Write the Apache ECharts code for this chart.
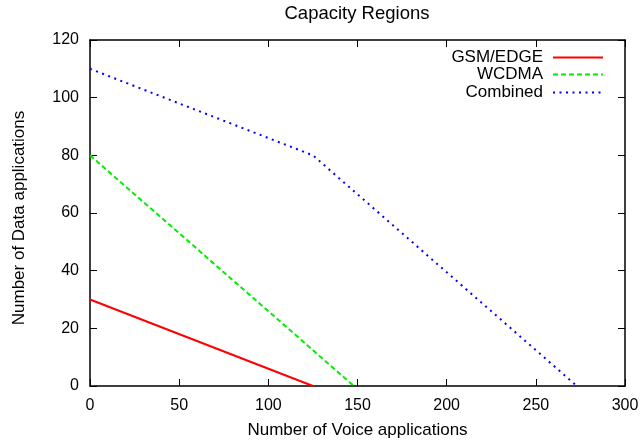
<!DOCTYPE html>
<html>
<head>
<meta charset="utf-8">
<script src="https://cdn.jsdelivr.net/npm/echarts@6/dist/echarts.min.js"></script>
<style>
  html, body { margin: 0; padding: 0; background: #fff; }
  #chart { width: 642px; height: 441px; }
</style>
</head>
<body>
<div id="chart"></div>
<script>
// values
const seriesNames = ['GSM/EDGE', 'WCDMA', 'Combined'];
const gsmVoice = [0, 125];
const gsmData = [30, 0];
const wcdmaVoice = [0, 148];
const wcdmaData = [80, 0];
const combinedVoice = [0, 125, 273];
const combinedData = [110, 80, 0];

const font = 'Liberation Sans, Arial, Helvetica, sans-serif';
const zip = (xs, ys) => xs.map((x, i) => [x, ys[i]]);

const axisBase = {
    type: 'value',
    axisLine: { show: true, onZero: false, lineStyle: { color: '#000', width: 1.5 } },
    axisTick: { show: true, inside: true, length: 7, lineStyle: { color: '#000', width: 1 } },
    splitLine: { show: false },
    axisLabel: { color: '#000', fontFamily: font, fontSize: 16 }
};

function legendFor(name, middle) {
    return {
        data: [name],
        right: 38,
        top: middle - 8,
        padding: 0,
        align: 'right',
        itemWidth: 50,
        itemHeight: 10,
        itemGap: 0,
        itemStyle: { opacity: 0 },
        textStyle: { color: '#000', fontFamily: font, fontSize: 17, padding: [0, 5, 0, 0] },
        selectedMode: false
    };
}

const chart = echarts.init(document.getElementById('chart'));
chart.setOption({
    animation: false,
    backgroundColor: '#fff',
    title: {
        text: 'Capacity Regions',
        left: 357,
        textAlign: 'center',
        top: 4,
        padding: 0,
        textStyle: { color: '#000', fontFamily: font, fontSize: 18.5, fontWeight: 'normal' }
    },
    legend: [legendFor(seriesNames[0], 57), legendFor(seriesNames[1], 74), legendFor(seriesNames[2], 92)],
    grid: { left: 90, right: 17, top: 40, bottom: 55, containLabel: false, outerBoundsMode: 'none' },
    xAxis: [
        Object.assign({}, axisBase, {
            position: 'bottom', min: 0, max: 300, interval: 50,
            name: 'Number of Voice applications',
            nameLocation: 'middle', nameGap: 36,
            nameTextStyle: { color: '#000', fontFamily: font, fontSize: 17 },
            axisLabel: Object.assign({}, axisBase.axisLabel, { margin: 12 })
        }),
        Object.assign({}, axisBase, {
            position: 'top', min: 0, max: 300, interval: 50,
            axisLabel: { show: false }
        })
    ],
    yAxis: [
        Object.assign({}, axisBase, {
            position: 'left', min: 0, max: 120, interval: 20,
            name: 'Number of Data applications',
            nameLocation: 'middle', nameGap: 62,
            nameTextStyle: { color: '#000', fontFamily: font, fontSize: 17, padding: [0, 10, 0, 0] },
            axisLabel: Object.assign({}, axisBase.axisLabel, { margin: 11 })
        }),
        Object.assign({}, axisBase, {
            position: 'right', min: 0, max: 120, interval: 20,
            axisLabel: { show: false }
        })
    ],
    series: [
        {
            name: seriesNames[0], type: 'line', symbol: 'none',
            data: zip(gsmVoice, gsmData),
            lineStyle: { color: '#ff0000', width: 2, type: 'solid' },
            itemStyle: { color: '#ff0000' }
        },
        {
            name: seriesNames[1], type: 'line', symbol: 'none',
            data: zip(wcdmaVoice, wcdmaData),
            lineStyle: { color: '#00ee00', width: 2, type: [5, 3] },
            itemStyle: { color: '#00ee00' }
        },
        {
            name: seriesNames[2], type: 'line', symbol: 'none',
            data: zip(combinedVoice, combinedData),
            lineStyle: { color: '#0000ff', width: 2, type: [2, 4.5] },
            itemStyle: { color: '#0000ff' }
        }
    ]
});
</script>
</body>
</html>
